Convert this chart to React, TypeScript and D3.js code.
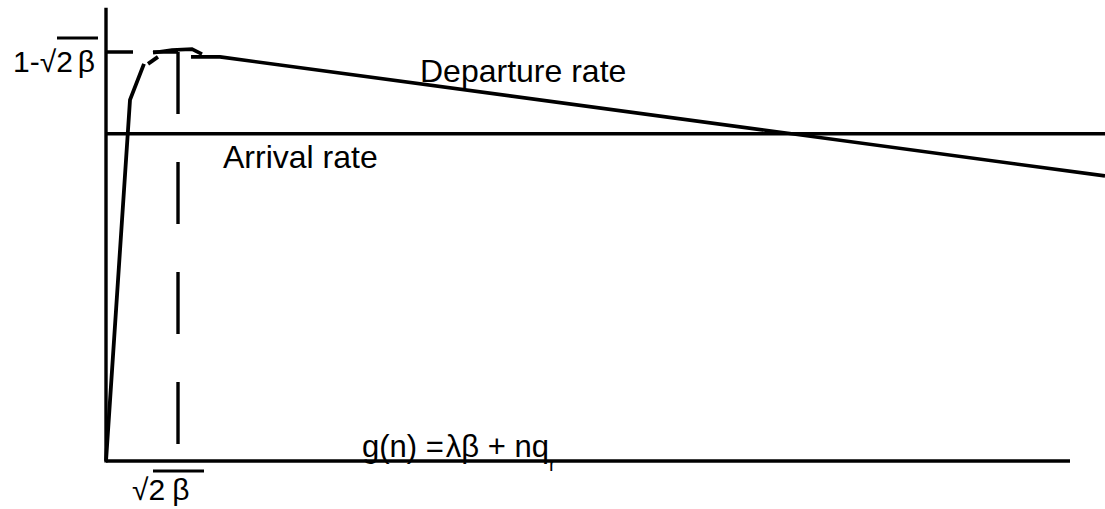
import React from 'react';
import * as d3 from 'd3';

// x: n (queue size), y: rate, both in relative units
const risePts: [number, number][] = [[0, 0], [2.49, 0.883], [3.94, 0.971]];
const kneePts: [number, number][] = [[4.36, 0.971], [5.39, 0.988]];
const lidPts: [number, number][] = [[4.88, 0.998], [6.85, 1.005], [8.92, 1.007], [9.96, 0.995]];
const departurePts: [number, number][] = [[8.82, 0.988], [11.83, 0.988], [103.63, 0.697]];
const arrivalRate = 0.8;
const arrivalEnd = 103.63;
const peakRate = 1;
const peakN = 7.47;
const xMaxVal = 100;
const yMaxVal = 1.108;
const labels = { departure: 'Departure rate', arrival: 'Arrival rate' };

const W = 1105;
const H = 509;
const FONT = '"Liberation Sans", Arial, Helvetica, sans-serif';

export default function App() {
  const x = d3.scaleLinear().domain([0, xMaxVal]).range([106, 1070]);
  const y = d3.scaleLinear().domain([0, 1]).range([461, 52]);
  const line = d3.line<[number, number]>().x(d => x(d[0])).y(d => y(d[1]));

  const sw = 3.4;
  return (
    <svg width={W} height={H} style={{ position: 'absolute', left: 0, top: 0, background: '#fff' }}>
      <g stroke="#000" fill="none" strokeWidth={sw}>
        {/* axes */}
        <line x1={x(0)} x2={x(0)} y1={y(0) + 1.5} y2={y(yMaxVal)} />
        <line x1={x(0)} x2={x(xMaxVal)} y1={y(0)} y2={y(0)} />
        {/* guides to the peak */}
        <line x1={x(0)} x2={x(peakN)} y1={y(peakRate)} y2={y(peakRate)} strokeDasharray="27 20" />
        <line x1={x(peakN)} x2={x(peakN)} y1={y(peakRate)} y2={y(0.039)} strokeDasharray="62 48" />
        {/* arrival rate */}
        <line x1={x(0)} x2={x(arrivalEnd)} y1={y(arrivalRate)} y2={y(arrivalRate)} />
        {/* departure curve */}
        <path d={line(risePts) || ''} strokeWidth={3.8} strokeLinejoin="miter" />
        <path d={line(kneePts) || ''} strokeWidth={3.8} />
        <path d={line(lidPts) || ''} strokeWidth={3.6} />
        <path d={line(departurePts) || ''} strokeWidth={3.6} />
        {/* radical bars */}
        <line x1={57} x2={98} y1={38} y2={38} strokeWidth={3.2} />
        <line x1={153} x2={204} y1={471} y2={471} strokeWidth={3.2} />
      </g>
      <g fontFamily={FONT} fill="#000" fontSize={32}>
        <text x={13} y={72} fontSize={30}>1-√2<tspan dx={5}>β</tspan></text>
        <text x={132} y={500} fontSize={30}>√2<tspan dx={7}>β</tspan></text>
        <text x={420} y={82}>{labels.departure}</text>
        <text x={223} y={168}>{labels.arrival}</text>
        <text x={362} y={457} fontSize={31}>g(n) =<tspan dx={2}>λβ</tspan> + nq<tspan fontSize={20} dy={14}>r</tspan></text>
      </g>
    </svg>
  );
}
